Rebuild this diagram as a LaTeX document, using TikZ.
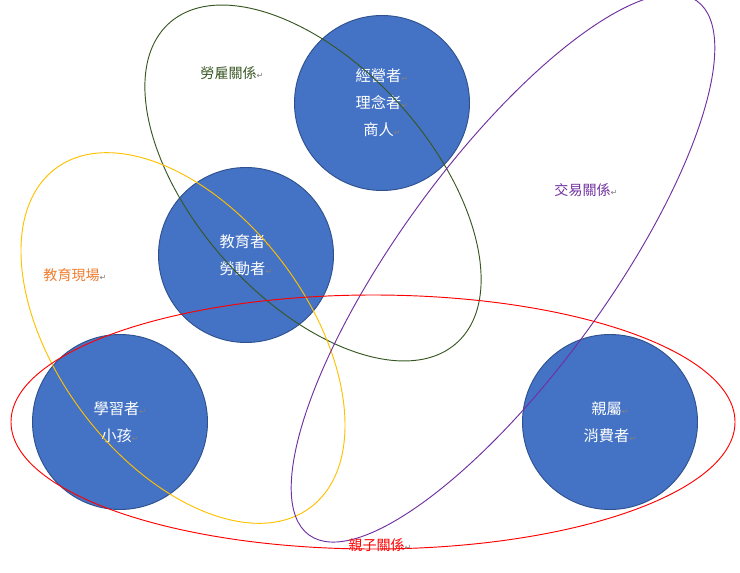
\documentclass[tikz,border=0pt]{standalone}
\usepackage{fontspec}
\setmainfont{Noto Sans CJK TC}
\newfontfamily\markfont{DejaVu Sans}
\usepackage{tikz}
\definecolor{circfill}{HTML}{4472C4}
\definecolor{circedge}{HTML}{2F528F}
\definecolor{laborgreen}{HTML}{385723}
\definecolor{tradepurple}{HTML}{7030A0}
\definecolor{eduorange}{HTML}{ED7D31}
\definecolor{eduyellow}{HTML}{FFC000}
\newcommand{\rmark}{{\markfont\color{gray}\scriptsize ↵}}
\begin{document}
\begin{tikzpicture}[x=0.03cm,y=-0.03cm,
    role/.style={circle, fill=circfill, draw=circedge, thick, minimum size=5.25cm,
                 text=white, align=center, font=\fontsize{13}{23}\selectfont},
    tag/.style={font=\fontsize{12}{14}\selectfont}]
                % Frame
                \useasboundingbox (0,0) rectangle (740,573);

                % Roles
                \node[role] (owner) at (382,103) {經營者\rmark\\理念者\rmark\\商人\rmark};
                \node[role] (teacher) at (246,255) {教育者\rmark\\勞動者\rmark};
                \node[role] (learner) at (120,422) {學習者\rmark\\小孩\rmark};
                \node[role] (parent) at (610,422) {親屬\rmark\\消費者\rmark};

                % Relations
                \draw[laborgreen, thick, rotate around={-48:(313,183)}] (313,183) ellipse [x radius=215, y radius=117];
                \draw[eduyellow, thick, rotate around={-53:(183,338)}] (183,338) ellipse [x radius=212, y radius=125];
                \draw[tradepurple, thick, rotate around={54:(503,268)}] (503,268) ellipse [x radius=330, y radius=105];
                \draw[red, thick] (373,422) ellipse [x radius=362, y radius=127];

                % Labels
                \node[tag, laborgreen] (laborlbl) at (232,73) {勞雇關係\rmark};
                \node[tag, tradepurple] (tradelbl) at (586,190) {交易關係\rmark};
                \node[tag, eduorange] (edulbl) at (75,275) {教育現場\rmark};
                \node[tag, red] (familylbl) at (380,545) {親子關係\rmark};
\end{tikzpicture}
\end{document}
